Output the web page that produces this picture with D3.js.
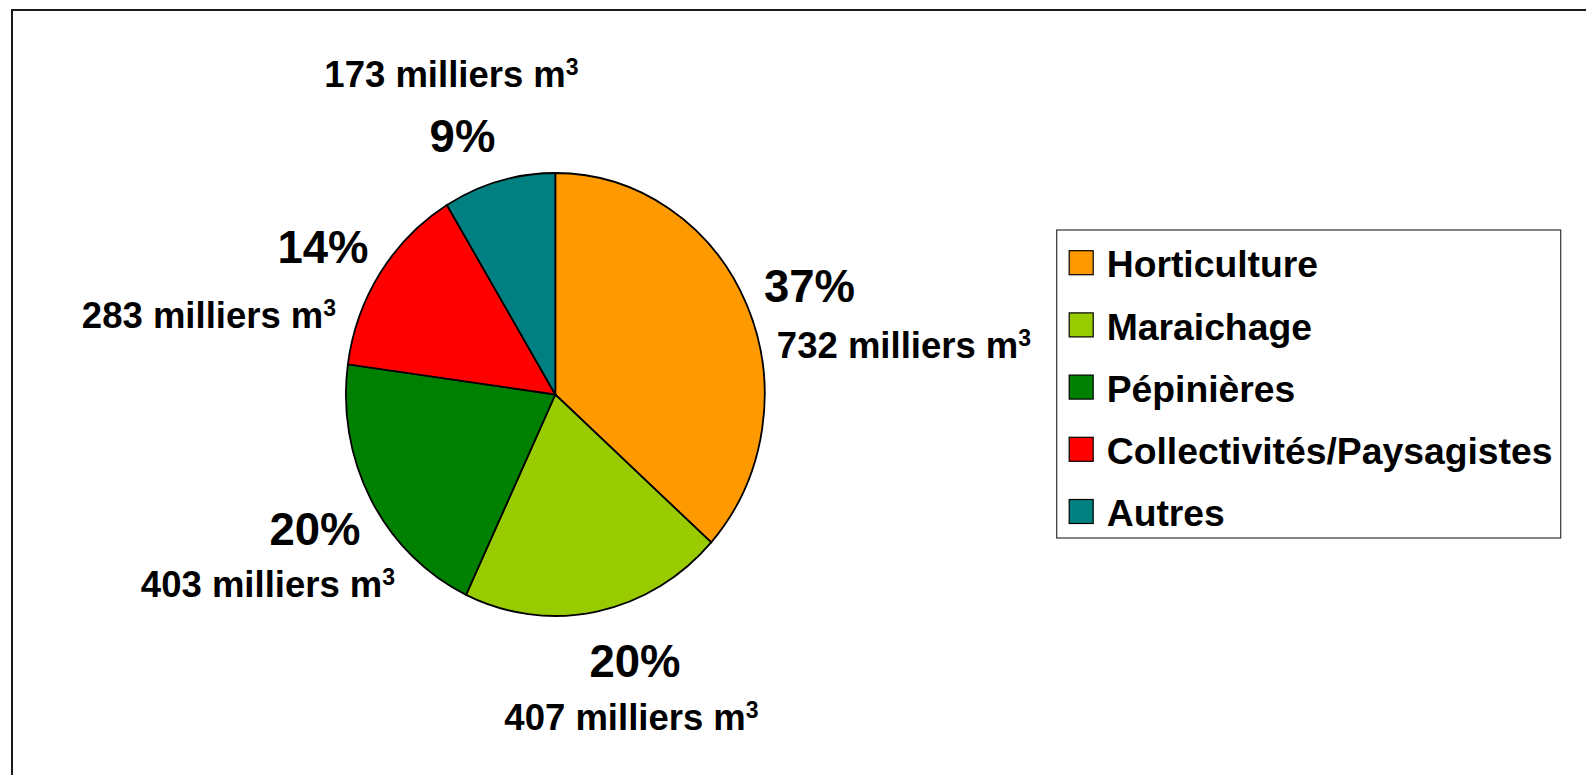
<!DOCTYPE html>
<html>
<head>
<meta charset="utf-8">
<script src="https://cdn.jsdelivr.net/npm/d3@7"></script>
<style>
  html, body { margin: 0; padding: 0; background: #fff; overflow: hidden; }
  text { font-family: "Liberation Sans", Arial, sans-serif; font-weight: bold; fill: #000; }
</style>
</head>
<body>
<svg id="chart"></svg>
<script>

// data
const categories = ["Horticulture", "Maraichage", "Pépinières", "Collectivités/Paysagistes", "Autres"];
const volumes    = [732, 407, 403, 283, 173];   // milliers m3
const colors     = ["#FF9900", "#99CC00", "#008000", "#FF0000", "#008080"];

// label placement (layout only)
const pctPos = [[809.5, 301.7], [635, 676.7], [315, 545], [323, 263.3], [462.5, 151.5]];
const valPos = [[904, 357.5], [631.5, 730], [268, 596.7], [209, 328.3], [451.5, 87]];

const width = 1586, height = 775;

const svg = d3.select("#chart")
    .attr("width", width)
    .attr("height", height);

// outer frame (right/bottom fall outside the window)
svg.append("rect")
    .attr("x", 12).attr("y", 10)
    .attr("width", width + 20).attr("height", height + 20)
    .attr("fill", "none")
    .attr("stroke", "#1a1a1a")
    .attr("stroke-width", 2);

// pie, slightly taller than wide like the original
const cx = 555.3, cy = 394.5, rx = 209.4, ry = 221.5;

const pie = d3.pie().sort(null).value(d => d);
const arcs = pie(volumes);
const arc = d3.arc().innerRadius(0).outerRadius(ry);

const pieG = svg.append("g")
    .attr("transform", `translate(${cx},${cy}) scale(${rx / ry},1)`);

pieG.selectAll("path")
    .data(arcs)
    .enter()
    .append("path")
    .attr("d", arc)
    .attr("fill", (d, i) => colors[i])
    .attr("stroke", "#000")
    .attr("stroke-width", 1.8)
    .attr("vector-effect", "non-scaling-stroke");

// labels
const total = d3.sum(volumes);
const pct = d3.format(".0%");

svg.selectAll("text.pct")
    .data(arcs)
    .enter()
    .append("text")
    .attr("class", "pct")
    .attr("x", (d, i) => pctPos[i][0])
    .attr("y", (d, i) => pctPos[i][1])
    .attr("text-anchor", "middle")
    .style("font-size", "45.5px")
    .text(d => pct(d.value / total));

const val = svg.selectAll("text.val")
    .data(arcs)
    .enter()
    .append("text")
    .attr("class", "val")
    .attr("x", (d, i) => valPos[i][0])
    .attr("y", (d, i) => valPos[i][1])
    .attr("text-anchor", "middle")
    .style("font-size", "36.5px");

val.append("tspan").text(d => `${d.value} milliers m`);
val.append("tspan")
    .attr("dy", -12)
    .style("font-size", "23px")
    .text("3");

// legend
const legend = svg.append("g").attr("transform", "translate(1056.7,230)");

legend.append("rect")
    .attr("width", 504).attr("height", 308)
    .attr("fill", "#fff")
    .attr("stroke", "#333")
    .attr("stroke-width", 1.2);

const rowY = d3.scalePoint()
    .domain(categories)
    .range([20.7, 20.7 + 4 * 62.2]);

const item = legend.selectAll("g.item")
    .data(categories)
    .enter()
    .append("g")
    .attr("class", "item")
    .attr("transform", d => `translate(0,${rowY(d)})`);

item.append("rect")
    .attr("x", 12.5).attr("y", 0)
    .attr("width", 24).attr("height", 24)
    .attr("fill", (d, i) => colors[i])
    .attr("stroke", "#000")
    .attr("stroke-width", 1.2);

item.append("text")
    .attr("x", 50)
    .attr("y", 26.6)
    .style("font-size", "37.3px")
    .text(d => d);

</script>
</body>
</html>
